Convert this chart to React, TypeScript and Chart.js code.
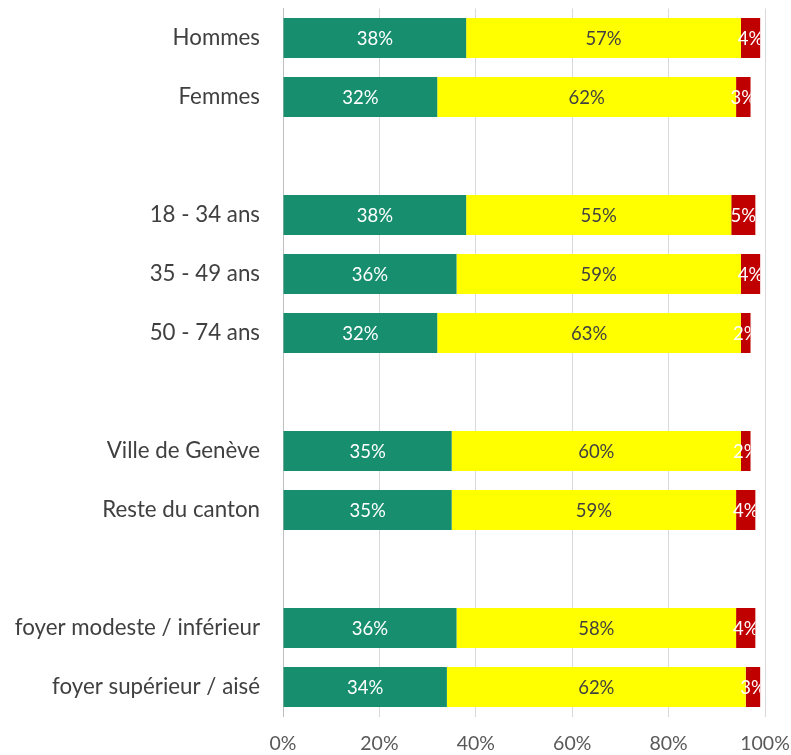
import React, { useEffect, useRef } from "react";
import { Chart, registerables } from "chart.js";

Chart.register(...registerables);

const categories = [
  "Hommes",
  "Femmes",
  "",
  "18 - 34 ans",
  "35 - 49 ans",
  "50 - 74 ans",
  " ",
  "Ville de Genève",
  "Reste du canton",
  "  ",
  "foyer modeste / inférieur",
  "foyer supérieur / aisé",
];

const greenValues = [38, 32, null, 38, 36, 32, null, 35, 35, null, 36, 34];
const yellowValues = [57, 62, null, 55, 59, 63, null, 60, 59, null, 58, 62];
const redValues = [4, 3, null, 5, 4, 2, null, 2, 4, null, 4, 3];

const xTicks = [0, 20, 40, 60, 80, 100];

const FONT = "Lato, 'Open Sans', sans-serif";

const labelPlugin = {
  id: "barLabels",
  afterDatasetsDraw(chart: any) {
    const ctx = chart.ctx;
    const n = chart.data.datasets.length;
    const lastMeta = chart.getDatasetMeta(n - 1);
    chart.data.datasets.forEach((ds: any, di: number) => {
      const meta = chart.getDatasetMeta(di);
      meta.data.forEach((el: any, i: number) => {
        const v = ds.data[i];
        if (v == null) return;
        const lastEl = lastMeta.data[i];
        const right = lastEl ? lastEl.x : el.x;
        const h = el.height;
        ctx.save();
        ctx.beginPath();
        ctx.rect(chart.chartArea.left, el.y - h / 2, right - chart.chartArea.left, h);
        ctx.clip();
        ctx.font = `18.5px ${FONT}`;
        ctx.textAlign = "center";
        ctx.textBaseline = "middle";
        ctx.fillStyle = ds.labelColor;
        ctx.fillText(`${v}%`, (el.x + el.base) / 2, el.y + 1);
        ctx.restore();
      });
    });
  },
};

const zeroPad = (s: any) => {
  s.paddingLeft = 0;
  s.paddingRight = 0;
  s.paddingTop = 0;
  s.paddingBottom = 0;
};

export default function App() {
  const ref = useRef<HTMLCanvasElement>(null);
  useEffect(() => {
    if (!ref.current) return;
    const chart = new Chart(ref.current, {
      type: "bar",
      data: {
        labels: categories,
        datasets: [
          { label: "vert", data: greenValues, backgroundColor: "#178F6F", labelColor: "#ffffff" } as any,
          { label: "jaune", data: yellowValues, backgroundColor: "#FFFF00", labelColor: "#404040" } as any,
          { label: "rouge", data: redValues, backgroundColor: "#C00000", labelColor: "#ffffff" } as any,
        ],
      },
      options: {
        indexAxis: "y",
        responsive: false,
        animation: false,
        events: [],
        layout: { padding: { top: 8.5, right: 26, left: 0, bottom: 0 } },
        datasets: { bar: { barPercentage: 0.68, categoryPercentage: 1 } },
        plugins: { legend: { display: false }, tooltip: { enabled: false }, title: { display: false } },
        scales: {
          x: {
            stacked: true,
            min: 0,
            max: 100,
            afterFit: (s: any) => { s.height = 38.5; zeroPad(s); },
            afterBuildTicks: (s: any) => { s.ticks = xTicks.map((v) => ({ value: v })); },
            grid: { color: "#d9d9d9", drawTicks: false, lineWidth: 1 },
            border: { display: false },
            ticks: {
              padding: 16,
              color: "#595959",
              font: { family: FONT, size: 19.5 },
              callback: (v: any) => `${v}%`,
            },
          },
          y: {
            stacked: true,
            afterFit: (s: any) => { s.width = 283; zeroPad(s); },
            grid: { display: false, drawTicks: false },
            border: { display: true, color: "#bfbfbf", width: 1 },
            ticks: {
              padding: 23,
              color: "#404040",
              font: { family: FONT, size: 22.3 },
              autoSkip: false,
            },
          },
        },
      },
      plugins: [labelPlugin],
    });
    return () => chart.destroy();
  }, []);
  return (
    <div style={{ position: "absolute", left: 0, top: 0, width: 791, height: 755, background: "#fff" }}>
      <canvas ref={ref} width={791} height={755} />
    </div>
  );
}
